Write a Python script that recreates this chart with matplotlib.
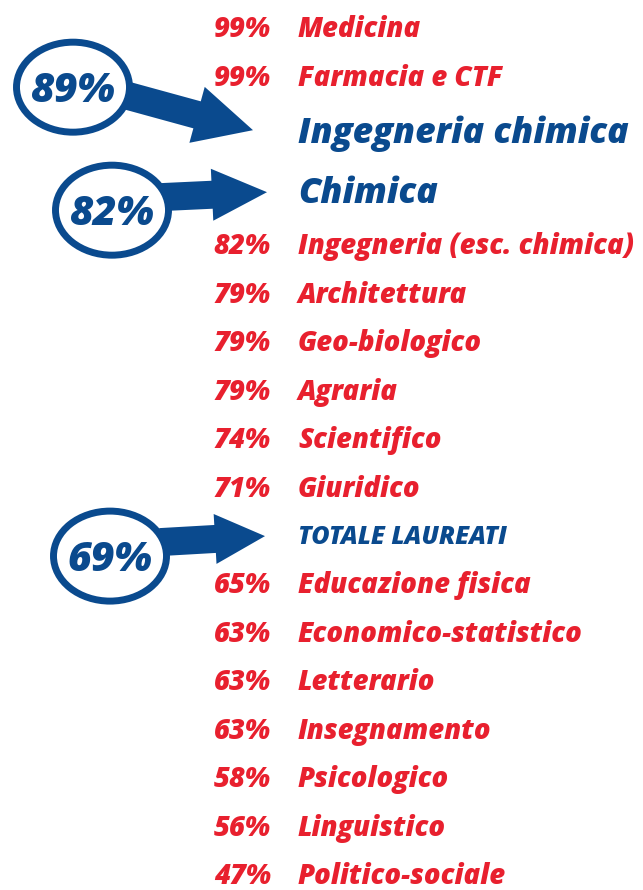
import matplotlib
matplotlib.use("Agg")
import matplotlib.pyplot as plt
from matplotlib.patches import Ellipse, FancyArrow
from matplotlib import font_manager

# ---------------- data ----------------
categories = [
    "Medicina", "Farmacia e CTF", "Ingegneria chimica", "Chimica",
    "Ingegneria (esc. chimica)", "Architettura", "Geo-biologico", "Agraria",
    "Scientifico", "Giuridico", "TOTALE LAUREATI", "Educazione fisica",
    "Economico-statistico", "Letterario", "Insegnamento", "Psicologico",
    "Linguistico", "Politico-sociale",
]
values = [99, 99, 89, 82, 82, 79, 79, 79, 74, 71, 69, 65, 63, 63, 63, 58, 56, 47]
highlighted = ["Ingegneria chimica", "Chimica", "TOTALE LAUREATI"]

# ---------------- style / layout ----------------
RED = "#E8202E"
BLUE = "#0A4A8E"
W, H = 643, 890

names = [f.name for f in font_manager.fontManager.ttflist]
FONT = "Open Sans" if "Open Sans" in names else "DejaVu Sans"

fig = plt.figure(figsize=(W / 100, H / 100), dpi=100)
ax = fig.add_axes([0, 0, 1, 1])
ax.set_xlim(0, W)
ax.set_ylim(H, 0)
ax.axis("off")

PCT_RIGHT = 271
LABEL_LEFT = 298
FIRST_Y = 27.5
ROW_H = 48.45
BIG_H = 60

FS_ROW = 19.8
FS_BIG = 25.6
FS_TOT = 18
FS_ELL = 29.5

# row heights -> centers
heights = []
for c in categories:
    if c in highlighted and c != "TOTALE LAUREATI":
        heights.append(BIG_H)
    else:
        heights.append(ROW_H)
ys = [FIRST_Y]
for i in range(1, len(categories)):
    ys.append(ys[-1] + (heights[i - 1] + heights[i]) / 2)

def txt(x, yc, s, fs, color, ha="left", z=5):
    ax.text(x, yc + fs * 0.5, s, fontsize=fs, color=color, ha=ha, va="baseline",
            family=FONT, weight="heavy", style="italic", zorder=z)

# ellipse centre (x, dy from row), arrow start (x, dy), arrow tip (dx from label, dy),
# head width, head length
ell_geom = {
    "Ingegneria chimica": dict(ec=(73, -43), start=(118, -37), tip=(-45, 0), hw=58, hl=58),
    "Chimica": dict(ec=(112, 20), start=(160, 7), tip=(-31, 2), hw=52, hl=55),
    "TOTALE LAUREATI": dict(ec=(110, 21), start=(160, 7), tip=(-33, 1), hw=50, hl=50),
}

for i, (c, v) in enumerate(zip(categories, values)):
    y = ys[i]
    if c in highlighted:
        g = ell_geom[c]
        fs = FS_TOT if c == "TOTALE LAUREATI" else FS_BIG
        txt(LABEL_LEFT, y, c, fs, BLUE)
        ex, ey = g["ec"][0], y + g["ec"][1]
        sx, sy = g["start"][0], y + g["start"][1]
        tx, ty = LABEL_LEFT + g["tip"][0], y + g["tip"][1]
        arr = FancyArrow(sx, sy, tx - sx, ty - sy, width=28, head_width=g["hw"],
                         head_length=g["hl"], length_includes_head=True,
                         color=BLUE, lw=0, zorder=1)
        ax.add_patch(arr)
        ax.add_patch(Ellipse((ex, ey), 113, 90, facecolor="white",
                             edgecolor=BLUE, lw=5.0, zorder=2))
        ax.text(ex, ey + FS_ELL * 0.5, f"{v}%", fontsize=FS_ELL, color=BLUE,
                ha="center", va="baseline", family=FONT, weight="heavy",
                style="italic", zorder=3)
    else:
        txt(PCT_RIGHT, y, f"{v}%", FS_ROW, RED, ha="right")
        txt(LABEL_LEFT, y, c, FS_ROW, RED)

fig.savefig("out.png", dpi=100, facecolor="white")
